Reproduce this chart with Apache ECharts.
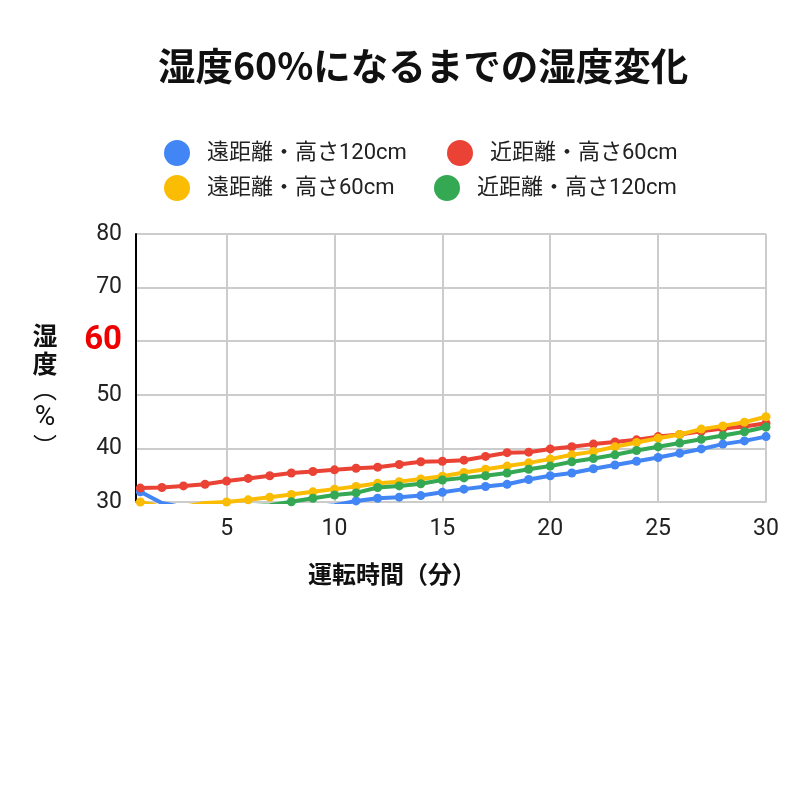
<!DOCTYPE html>
<html>
<head>
<meta charset="utf-8">
<script src="https://cdn.jsdelivr.net/npm/echarts@6/dist/echarts.min.js"></script>
<style>
  html, body { margin: 0; padding: 0; background: #fff; }
  #main { width: 800px; height: 800px; }
</style>
</head>
<body>
<div id="main"></div>
<script>
// 運転時間（分）
const minutes = [1,2,3,4,5,6,7,8,9,10,11,12,13,14,15,16,17,18,19,20,21,22,23,24,25,26,27,28,29,30];

// 湿度（%）— 30 未満の値はグラフ外（推定）
const farHigh = [31.9,29.8,29.0,28.7,28.5,28.4,28.5,28.7,29.0,29.4,30.2,30.7,30.9,31.2,31.8,32.4,32.9,33.3,34.2,34.9,35.4,36.2,36.9,37.6,38.3,39.1,39.9,40.8,41.4,42.2];
const nearLow = [32.6,32.7,33.0,33.3,33.9,34.4,34.9,35.4,35.7,36.0,36.3,36.5,37.0,37.5,37.6,37.8,38.5,39.2,39.3,39.9,40.3,40.8,41.2,41.6,42.2,42.6,43.2,43.7,44.1,44.7];
const farLow = [30.0,29.1,29.1,29.8,30.0,30.4,30.9,31.4,31.9,32.4,32.9,33.5,33.8,34.3,34.8,35.5,36.1,36.7,37.3,38.0,38.8,39.4,40.3,41.1,41.9,42.6,43.6,44.2,44.9,45.9];
const nearHigh = [28.3,28.4,28.6,28.8,29.0,29.2,29.4,30.05,30.7,31.3,31.7,32.7,33.0,33.4,34.1,34.5,34.9,35.4,36.1,36.7,37.5,38.1,38.8,39.6,40.3,41.0,41.7,42.4,43.1,44.0];

const seriesNames = ['遠距離・高さ120cm', '近距離・高さ60cm', '遠距離・高さ60cm', '近距離・高さ120cm'];
const seriesColors = ['#4285F4', '#EA4335', '#FBBC04', '#34A853'];
const seriesValues = [farHigh, nearLow, farLow, nearHigh];
const xTicks = [5, 10, 15, 20, 25, 30];

const FONT = '"Noto Sans CJK JP", "Noto Sans", sans-serif';
const MIX_FONT = 'Roboto, "Noto Sans CJK JP", sans-serif';

let chart = echarts.init(document.getElementById('main'), null, { renderer: 'canvas' });

function legendAt(name, left, top) {
  return {
    data: [name],
    left: left,
    top: top,
    icon: 'circle',
    itemWidth: 26,
    itemHeight: 26,
    selectedMode: false,
    textStyle: {
      fontFamily: MIX_FONT,
      fontSize: 22,
      color: '#222',
      padding: [0, 0, 0, 12]
    }
  };
}

// 縦書き用の括弧
function yNamePart(ch, y, font, size) {
  return {
    type: 'text',
    x: 45,
    y: y,
    style: {
      text: ch,
      fontFamily: font,
      fontSize: size,
      align: 'center',
      verticalAlign: 'middle',
      fill: '#111'
    }
  };
}

let option = {
  backgroundColor: '#fff',
  animation: false,
  title: {
    text: '湿度60%になるまでの湿度変化',
    left: 153,
    top: 42,
    textStyle: {
      fontFamily: FONT,
      fontSize: 37.5,
      fontWeight: 'bold',
      color: '#111'
    }
  },
  legend: [
    legendAt(seriesNames[0], 159, 135),
    legendAt(seriesNames[1], 442, 135),
    legendAt(seriesNames[2], 159, 170),
    legendAt(seriesNames[3], 429, 170)
  ],
  grid: {
    left: 136,
    right: 34,
    top: 234,
    bottom: 298,
    containLabel: false
  },
  xAxis: {
    type: 'value',
    min: 0.8,
    max: 30,
    splitNumber: 6,
    axisLine: { show: true, onZero: false, lineStyle: { color: '#ccc', width: 2 } },
    axisTick: { show: false },
    axisLabel: {
      customValues: xTicks,
      margin: 16,
      fontFamily: 'Roboto, sans-serif',
      fontSize: 23,
      color: '#222'
    },
    splitLine: { show: true, lineStyle: { color: '#ccc', width: 2 } }
  },
  yAxis: {
    type: 'value',
    min: 30,
    max: 80,
    interval: 10,
    axisLine: { show: true, lineStyle: { color: '#000', width: 2 } },
    axisTick: { show: false },
    axisLabel: {
      margin: 14,
      fontFamily: 'Roboto, sans-serif',
      fontSize: 23,
      color: '#222',
      formatter: function (v) {
        return v === 60 ? '{r|60}' : String(v);
      },
      rich: {
        r: {
          fontFamily: 'Roboto, sans-serif',
          fontSize: 33,
          fontWeight: 'bold',
          color: '#ee0000'
        }
      }
    },
    splitLine: { show: true, lineStyle: { color: '#ccc', width: 2 } }
  },
  graphic: [
    {
      type: 'text',
      x: 45,
      y: 321,
      style: {
        text: '湿\n度',
        fontFamily: FONT,
        fontSize: 25,
        fontWeight: 'bold',
        lineHeight: 28,
        align: 'center',
        verticalAlign: 'top',
        fill: '#111'
      }
    },
    yNamePart('︵', 389, FONT, 24),
    yNamePart('%', 418, 'Roboto, sans-serif', 28),
    yNamePart('︶', 446, FONT, 24),
    {
      type: 'text',
      x: 308,
      y: 574,
      style: {
        text: '運転時間（分）',
        fontFamily: FONT,
        fontSize: 24,
        fontWeight: 'bold',
        verticalAlign: 'middle',
        fill: '#111'
      }
    }
  ],
  series: seriesNames.map(function (name, i) {
    return {
      name: name,
      type: 'line',
      data: minutes.map(function (m, j) { return [m, seriesValues[i][j]]; }),
      clip: true,
      symbol: 'circle',
      symbolSize: 9,
      showSymbol: true,
      itemStyle: { color: seriesColors[i] },
      lineStyle: { color: seriesColors[i], width: 4 },
      z: 2 + i
    };
  })
};

chart.setOption(option);
</script>
</body>
</html>
